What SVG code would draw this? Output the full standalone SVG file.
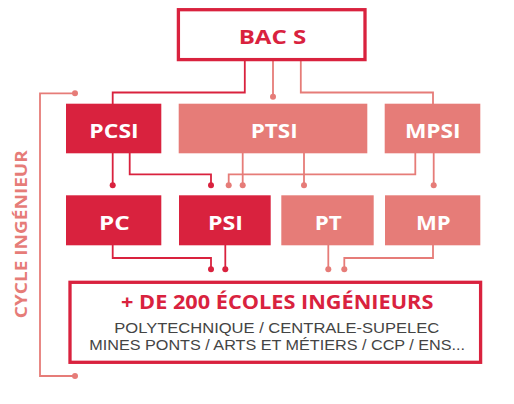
<svg xmlns="http://www.w3.org/2000/svg" width="514" height="404" viewBox="0 0 514 404">
<style>
.dark{fill:#D9223E}
.light{fill:#E67C78}
.lbl{font-family:"Open Sans","Liberation Sans",sans-serif;font-weight:700;font-size:20px;fill:#fff;text-anchor:middle}
.cd{fill:none;stroke:#D9223E;stroke-width:1.8}
.cl{fill:none;stroke:#E67C78;stroke-width:1.8}
.dd{fill:#D9223E}
.dl{fill:#E67C78}
.sub{font-family:"Liberation Sans",Arial,sans-serif;font-weight:400;font-size:15.3px;fill:#444;text-anchor:middle}
</style>
<rect width="514" height="404" fill="#fff"/>
<g id="connectors">
<polyline class="cd" points="244.8,61 244.8,92.5 112.7,92.5 112.7,104"/>
<line class="cl" x1="273" y1="61" x2="273" y2="96.7"/>
<circle class="dl" cx="273" cy="96.7" r="3"/>
<polyline class="cl" points="300.8,61 300.8,92.5 433,92.5 433,104"/>
<line class="cd" x1="112.7" y1="153" x2="112.7" y2="185.3"/>
<circle class="dd" cx="112.7" cy="185.3" r="3"/>
<polyline class="cd" points="129.7,153 129.7,174.3 211,174.3 211,185.3"/>
<circle class="dd" cx="211" cy="185.3" r="3"/>
<line class="cl" x1="242.7" y1="153" x2="242.7" y2="185.3"/>
<circle class="dl" cx="242.7" cy="185.3" r="3"/>
<line class="cl" x1="304" y1="153" x2="304" y2="185.3"/>
<circle class="dl" cx="304" cy="185.3" r="3"/>
<polyline class="cl" points="415.3,153 415.3,174.3 228.7,174.3 228.7,185.3"/>
<circle class="dl" cx="228.7" cy="185.3" r="3"/>
<line class="cl" x1="433.7" y1="153" x2="433.7" y2="185.3"/>
<circle class="dl" cx="433.7" cy="185.3" r="3"/>
<polyline class="cd" points="112.7,245 112.7,258 211,258 211,269.3"/>
<circle class="dd" cx="211" cy="269.3" r="3"/>
<line class="cd" x1="225.3" y1="245" x2="225.3" y2="269.3"/>
<circle class="dd" cx="225.3" cy="269.3" r="3"/>
<line class="cl" x1="328.3" y1="245" x2="328.3" y2="269.3"/>
<circle class="dl" cx="328.3" cy="269.3" r="3"/>
<polyline class="cl" points="433,245 433,258 344.3,258 344.3,269.3"/>
<circle class="dl" cx="344.3" cy="269.3" r="3"/>
<polyline class="cl" points="75,93.3 40,93.3 40,376 75,376"/>
<circle class="dl" cx="75" cy="93.3" r="3"/>
<circle class="dl" cx="75" cy="376" r="3"/>
</g>
<g id="cycle">
<text transform="translate(26.5,234.2) rotate(-90)" font-family="'Open Sans','Liberation Sans',sans-serif" font-weight="700" font-size="15.5" fill="#E67C78" text-anchor="middle" textLength="168" lengthAdjust="spacingAndGlyphs">CYCLE INGÉNIEUR</text>
</g>
<g id="bacs">
<rect x="178.4" y="9.7" width="186.6" height="49.9" fill="#fff" stroke="#D9223E" stroke-width="3.3"/>
<text x="272.5" y="43.7" font-family="'Open Sans','Liberation Sans',sans-serif" font-weight="700" font-size="20" fill="#D9223E" text-anchor="middle" textLength="67.7" lengthAdjust="spacingAndGlyphs">BAC S</text>
</g>
<g id="pcsi">
<rect class="dark" x="66" y="103.7" width="95.3" height="49.6"/>
<text class="lbl" x="114" y="137.7" textLength="49.3" lengthAdjust="spacingAndGlyphs">PCSI</text>
</g>
<g id="ptsi">
<rect class="light" x="178.7" y="103.7" width="188.6" height="49.6"/>
<text class="lbl" x="274.2" y="137.7" textLength="47" lengthAdjust="spacingAndGlyphs">PTSI</text>
</g>
<g id="mpsi">
<rect class="light" x="384.7" y="103.7" width="95.6" height="49.6"/>
<text class="lbl" x="432.8" y="137.7" textLength="55.7" lengthAdjust="spacingAndGlyphs">MPSI</text>
</g>
<g id="pc">
<rect class="dark" x="66" y="195.3" width="95.3" height="50"/>
<text class="lbl" x="114.3" y="230" textLength="30.7" lengthAdjust="spacingAndGlyphs">PC</text>
</g>
<g id="psi">
<rect class="dark" x="179" y="195.3" width="91.7" height="50"/>
<text class="lbl" x="225.5" y="230" textLength="35" lengthAdjust="spacingAndGlyphs">PSI</text>
</g>
<g id="pt">
<rect class="light" x="281.3" y="195.3" width="92.4" height="50"/>
<text class="lbl" x="328.2" y="230" textLength="27" lengthAdjust="spacingAndGlyphs">PT</text>
</g>
<g id="mp">
<rect class="light" x="385" y="195.3" width="95.3" height="50"/>
<text class="lbl" x="433.3" y="230" textLength="34.7" lengthAdjust="spacingAndGlyphs">MP</text>
</g>
<g id="ecoles">
<rect x="70" y="282.3" width="410.6" height="80" fill="#fff" stroke="#D9223E" stroke-width="3.3"/>
<text x="277.2" y="309.3" font-family="'Open Sans','Liberation Sans',sans-serif" font-weight="700" font-size="18.7" fill="#D9223E" text-anchor="middle" textLength="312.3" lengthAdjust="spacingAndGlyphs">+ DE 200 ÉCOLES INGÉNIEURS</text>
<text class="sub" x="276.8" y="332.7" textLength="325" lengthAdjust="spacingAndGlyphs">POLYTECHNIQUE / CENTRALE-SUPELEC</text>
<text class="sub" x="277.2" y="350.3" textLength="375.7" lengthAdjust="spacingAndGlyphs">MINES PONTS / ARTS ET MÉTIERS / CCP / ENS...</text>
</g>
</svg>
